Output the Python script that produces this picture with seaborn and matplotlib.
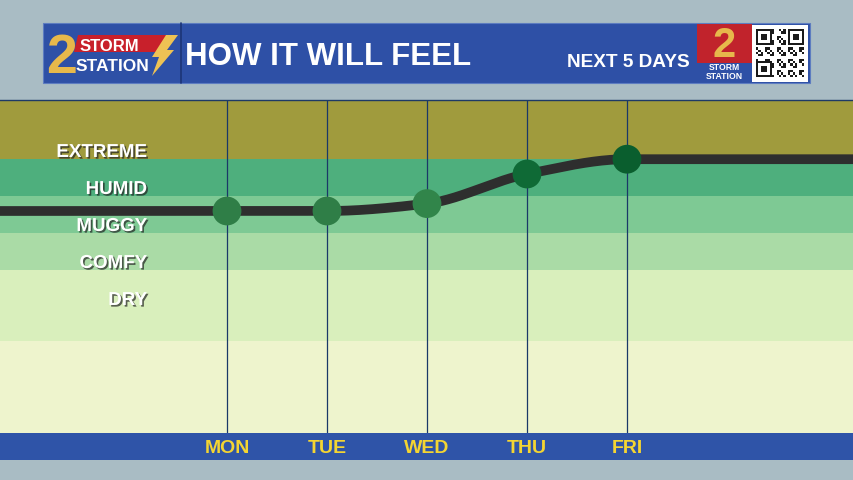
import numpy as np
import pandas as pd
import matplotlib
matplotlib.use("Agg")
import matplotlib.pyplot as plt
import matplotlib.patheffects as pe
from matplotlib.patches import Rectangle, Polygon
import seaborn as sns

# Data (dew point style "feel" index)
days = ["MON", "TUE", "WED", "THU", "FRI"]
feel = [63, 63, 64, 68, 70]
feel_before = 63   # line coming in from the left edge
feel_after = 70    # line leaving at the right edge
marker_colors = ["#2f7e47", "#2f7e47", "#31854a", "#0f6a36", "#0a5e2e"]

band_names = ["EXTREME", "HUMID", "MUGGY", "COMFY", "DRY"]
band_floor = [70, 65, 60, 55, 50]
band_edges = [33, 45.5, 55, 60, 65, 70, 78]
band_colors = ["#eef4cd", "#d9efbc", "#aadba6", "#7ec994", "#4eaf7d", "#a09b3d"]

sns.set_theme(style="white")
plt.rcParams["font.family"] = ["Liberation Sans", "DejaVu Sans"]

fig = plt.figure(figsize=(8.54, 4.8), dpi=100)
fig.patch.set_facecolor("#a9bcc4")

# overlay in pixel coords for the header / footer bars
ov = fig.add_axes([0, 0, 1, 1], zorder=0)
ov.set_xlim(0, 854)
ov.set_ylim(480, 0)
ov.axis("off")

# footer bar
ov.add_patch(Rectangle((0, 433), 854, 27, color="#2f54a8", lw=0))

# header bar
ov.add_patch(Rectangle((43, 23), 767, 60, facecolor="#2e50a6", edgecolor="#5d7cc0", lw=0.8))
ov.plot([181, 181], [23, 83], color="#1d3577", lw=1.2)
ov.text(185, 65, "HOW IT WILL FEEL", color="white", fontsize=22.5, fontweight="bold", va="baseline")
ov.text(690, 67, "NEXT 5 DAYS", color="white", fontsize=13.7, fontweight="bold", va="baseline", ha="right")

# left logo
ov.add_patch(Polygon([(78, 35), (173, 35), (166, 52), (74, 52)], color="#c8202b", lw=0))
ov.text(62, 73, "2", color="#e7b84b", fontsize=40, fontweight="bold", ha="center", va="baseline")
ov.text(80, 51, "STORM", color="white", fontsize=12, fontweight="bold", va="baseline")
ov.text(76, 71, "STATION", color="white", fontsize=12.5, fontweight="bold", va="baseline")
ov.add_patch(Polygon([(166, 35), (178, 35), (167, 50), (174, 50), (152, 76), (159, 57), (152, 57)],
                     color="#eec254", lw=0))

# right logo
ov.add_patch(Rectangle((697, 24), 55, 39, color="#c1232c", lw=0))
ov.add_patch(Rectangle((697, 63), 55, 19, color="#2e50a6", lw=0))
ov.text(724, 57, "2", color="#e7b84b", fontsize=30, fontweight="bold", ha="center", va="baseline")
ov.text(724, 81, "STORM\nSTATION", color="white", fontsize=6.2, fontweight="bold",
        ha="center", va="bottom", linespacing=0.95)

# QR box
ov.add_patch(Rectangle((752, 25), 56, 57, color="white", lw=0))
n = 21
cell = 48 / n
for i in range(n):
    for j in range(n):
        finder = (i < 7 and j < 7) or (i < 7 and j >= n - 7) or (i >= n - 7 and j < 7)
        if finder:
            a = i if i < 7 else i - (n - 7)
            b = j if j < 7 else j - (n - 7)
            on = a in (0, 6) or b in (0, 6) or (2 <= a <= 4 and 2 <= b <= 4)
        else:
            on = (i * 7 + j * 13 + i * j) % 5 < 2
        if on:
            ov.add_patch(Rectangle((756 + j * cell, 29 + i * cell), cell, cell, color="#1a1a1a", lw=0))

# main chart
ax = fig.add_axes([0, 47 / 480, 1, 333 / 480], zorder=1)
for k, c in enumerate(band_colors):
    ax.axhspan(band_edges[k], band_edges[k + 1], color=c, lw=0, zorder=0)

x_days = np.arange(len(days))
for xd in x_days:
    ax.axvline(xd, color="#1a3868", lw=0.9, zorder=2)

# smooth monotone curve through the points
xk = np.array([-2.27] + list(x_days) + [6.27], dtype=float)
yk = np.array([feel_before] + feel + [feel_after], dtype=float)
h = np.diff(xk)
d = np.diff(yk) / h
m = np.zeros_like(yk)
for k in range(1, len(xk) - 1):
    if d[k - 1] * d[k] > 0:
        w1 = 2 * h[k] + h[k - 1]
        w2 = h[k] + 2 * h[k - 1]
        m[k] = (w1 + w2) / (w1 / d[k - 1] + w2 / d[k])
xs = np.linspace(xk[0], xk[-1], 600)
ys = np.zeros_like(xs)
for k in range(len(h)):
    sel = (xs >= xk[k]) & (xs <= xk[k + 1])
    t = (xs[sel] - xk[k]) / h[k]
    ys[sel] = ((2 * t**3 - 3 * t**2 + 1) * yk[k] + (t**3 - 2 * t**2 + t) * h[k] * m[k]
               + (-2 * t**3 + 3 * t**2) * yk[k + 1] + (t**3 - t**2) * h[k] * m[k + 1])

curve = pd.DataFrame({"x": xs, "y": ys})
sns.lineplot(data=curve, x="x", y="y", color="#2e2e2e", lw=7, ax=ax, zorder=3,
             solid_capstyle="butt")

pts = pd.DataFrame({"x": x_days, "y": feel, "day": days})
sns.scatterplot(data=pts, x="x", y="y", hue="day", palette=marker_colors, s=430,
                edgecolor="none", legend=False, ax=ax, zorder=4)

shadow = [pe.SimplePatchShadow(offset=(1.2, -1.2), shadow_rgbFace="#222222", alpha=0.7), pe.Normal()]
for name, fl in zip(band_names, band_floor):
    ax.text(-0.8, fl + 0.3, name, color="white", fontsize=13.5, fontweight="bold",
            ha="right", va="baseline", path_effects=shadow, zorder=5)

ax.set_xlim(-2.27, 6.27)
ax.set_ylim(band_edges[0], band_edges[-1])
ax.set_xticks(x_days)
ax.set_xticklabels(days)
ax.tick_params(axis="x", length=0, pad=5, labelsize=14, labelcolor="#f4d532")
for lbl in ax.get_xticklabels():
    lbl.set_fontweight("bold")
ax.set_yticks([])
ax.set_xlabel("")
ax.set_ylabel("")
for s in ["left", "right", "bottom"]:
    ax.spines[s].set_visible(False)
ax.spines["top"].set_color("#1d3a66")
ax.spines["top"].set_linewidth(1)

fig.savefig("out.png", dpi=100)
